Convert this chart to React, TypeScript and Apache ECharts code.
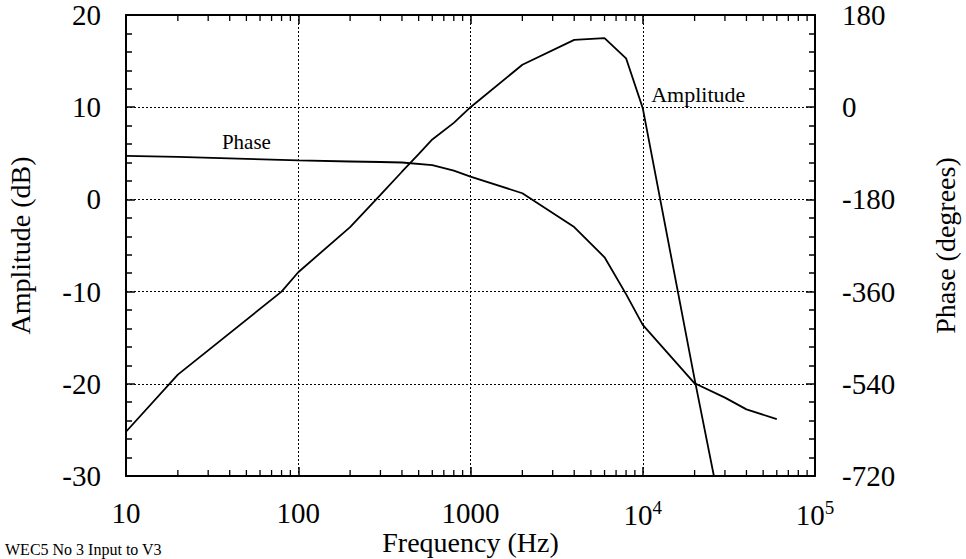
import React, { useEffect, useRef } from "react";
import * as echarts from "echarts";

// Frequency points (Hz) and amplitude (dB)
const ampFreqs = [10, 20, 80, 100, 200, 300, 400, 500, 600, 800, 1000, 2000, 4000, 6000, 8000, 10000, 20000, 30000];
const ampValues = [-25.2, -19, -10, -7.9, -3, 0.5, 3, 4.9, 6.5, 8.3, 10, 14.6, 17.3, 17.5, 15.3, 9.9, -19.5, -36];

// Frequency points (Hz) and phase (degrees)
const phaseFreqs = [10, 20, 50, 100, 200, 300, 400, 600, 800, 1000, 2000, 4000, 6000, 8000, 10000, 20000, 30000, 40000, 60000];
const phaseValues = [-95, -97, -101, -104, -106, -107, -108, -113, -124, -135.6, -168, -234, -293, -365, -425, -539, -567, -590, -609];

// Axis settings
const xMin = 10;
const xMax = 100000;
const ampMin = -30;
const ampMax = 20;
const ampStep = 10;
const phaseMin = -720;
const phaseMax = 180;
const phaseStep = 180;

// Minor log ticks (2..9 within every decade)
const decades = [10, 100, 1000, 10000];
const minorMultipliers = [2, 3, 4, 5, 6, 7, 8, 9];
const minorTickFreqs: number[] = [];
decades.forEach((d) => minorMultipliers.forEach((m) => minorTickFreqs.push(d * m)));

// Annotations
const phaseLabel = { text: "Phase", freq: 50, value: -68 };
const ampLabel = { text: "Amplitude", freq: 21000, value: 11.4 };
const footNote = "WEC5 No 3 Input to V3";

const FONT = "Liberation Serif";

export default function App() {
  const ref = useRef<HTMLDivElement>(null);

  useEffect(() => {
    if (!ref.current) return;
    const chart = echarts.init(ref.current, null, { renderer: "svg" });
    const axisLineStyle = { color: "#000", width: 2 };
    const splitLineStyle = { color: "#000", width: 1, type: [2, 2] as any };
    const txt = (size: number) => ({ fontFamily: FONT, fontSize: size, color: "#000" });

    chart.setOption({
      animation: false,
      backgroundColor: "#fff",
      textStyle: { fontFamily: FONT, color: "#000" },
      grid: { left: 126, right: 151, top: 15, bottom: 83, containLabel: false, outerBoundsMode: "none" },
      xAxis: [
        {
          type: "log",
          logBase: 10,
          min: xMin,
          max: xMax,
          splitNumber: 4,
          position: "bottom",
          name: "Frequency (Hz)",
          nameLocation: "middle",
          nameGap: 52,
          nameMoveOverlap: false,
          nameTextStyle: txt(28),
          axisLine: { show: true, onZero: false, lineStyle: axisLineStyle },
          axisTick: { show: true, inside: true, length: 9, lineStyle: { color: "#000", width: 1.5 } },
          axisLabel: {
            margin: 22,
            ...txt(29),
            formatter: (v: number) => {
              const r = Math.round(v);
              if (r >= 10000) {
                const e = Math.round(Math.log10(r));
                return `{b|10}{sup|${e}}`;
              }
              return String(r);
            },
            rich: {
              b: txt(29),
              sup: { ...txt(19), padding: [0, 0, 15, 0] },
            },
          },
          splitLine: { show: true, lineStyle: splitLineStyle },
        },
        {
          type: "log",
          logBase: 10,
          min: xMin,
          max: xMax,
          splitNumber: 4,
          position: "top",
          axisLine: { show: true, onZero: false, lineStyle: axisLineStyle },
          axisTick: { show: true, inside: true, length: 9, lineStyle: { color: "#000", width: 1.5 } },
          axisLabel: { show: false },
          splitLine: { show: false },
        },
      ],
      yAxis: [
        {
          type: "value",
          min: ampMin,
          max: ampMax,
          interval: ampStep,
          position: "left",
          name: "Amplitude (dB)",
          nameLocation: "middle",
          nameRotate: 90,
          nameGap: 92,
          nameMoveOverlap: false,
          nameTextStyle: txt(28),
          axisLine: { show: true, onZero: false, lineStyle: axisLineStyle },
          axisTick: { show: true, inside: true, length: 9, lineStyle: { color: "#000", width: 1.5 } },
          minorTick: { show: true, splitNumber: 5, length: 6, lineStyle: { color: "#000", width: 1.5 } },
          axisLabel: { margin: 25, ...txt(29) },
          splitLine: { show: true, lineStyle: splitLineStyle },
        },
        {
          type: "value",
          min: phaseMin,
          max: phaseMax,
          interval: phaseStep,
          position: "right",
          name: "Phase (degrees)",
          nameLocation: "middle",
          nameRotate: 90,
          nameGap: 116,
          nameMoveOverlap: false,
          nameTextStyle: txt(28),
          axisLine: { show: true, onZero: false, lineStyle: axisLineStyle },
          axisTick: { show: true, inside: true, length: 9, lineStyle: { color: "#000", width: 1.5 } },
          minorTick: { show: true, splitNumber: 5, length: 6, lineStyle: { color: "#000", width: 1.5 } },
          axisLabel: { margin: 27, ...txt(29) },
          splitLine: { show: false },
        },
      ],
      graphic: [
        {
          type: "text",
          left: 5,
          top: 541,
          style: { text: footNote, fontFamily: FONT, fontSize: 16, fill: "#000" },
        },
      ],
      series: [
        {
          type: "custom",
          name: "minorTicks",
          xAxisIndex: 0,
          yAxisIndex: 0,
          silent: true,
          clip: false,
          data: minorTickFreqs.map((f) => [f, ampMin]),
          renderItem: (params: any, api: any) => {
            const cs = params.coordSys;
            const x = api.coord([api.value(0), ampMin])[0];
            const len = 6;
            const style = { stroke: "#000", lineWidth: 1.3 };
            return {
              type: "group",
              children: [
                { type: "line", shape: { x1: x, y1: cs.y, x2: x, y2: cs.y + len }, style },
                { type: "line", shape: { x1: x, y1: cs.y + cs.height, x2: x, y2: cs.y + cs.height - len }, style },
              ],
            };
          },
        },
        {
          type: "line",
          name: "Amplitude",
          xAxisIndex: 0,
          yAxisIndex: 0,
          showSymbol: false,
          symbol: "none",
          clip: true,
          lineStyle: { color: "#000", width: 1.8 },
          data: ampFreqs.map((f, i) => [f, ampValues[i]]),
          markPoint: {
            symbol: "circle",
            symbolSize: 0,
            silent: true,
            label: {
              show: true,
              position: "inside",
              ...txt(22),
              formatter: () => ampLabel.text,
            },
            data: [{ coord: [ampLabel.freq, ampLabel.value] }],
          },
        },
        {
          type: "line",
          name: "Phase",
          xAxisIndex: 0,
          yAxisIndex: 1,
          showSymbol: false,
          symbol: "none",
          clip: true,
          lineStyle: { color: "#000", width: 1.8 },
          data: phaseFreqs.map((f, i) => [f, phaseValues[i]]),
          markPoint: {
            symbol: "circle",
            symbolSize: 0,
            silent: true,
            label: {
              show: true,
              position: "inside",
              ...txt(21),
              formatter: () => phaseLabel.text,
            },
            data: [{ coord: [phaseLabel.freq, phaseLabel.value] }],
          },
        },
      ],
    });
    return () => chart.dispose();
  }, []);

  return <div ref={ref} style={{ width: 966, height: 559, position: "absolute", left: 0, top: 0 }} />;
}
